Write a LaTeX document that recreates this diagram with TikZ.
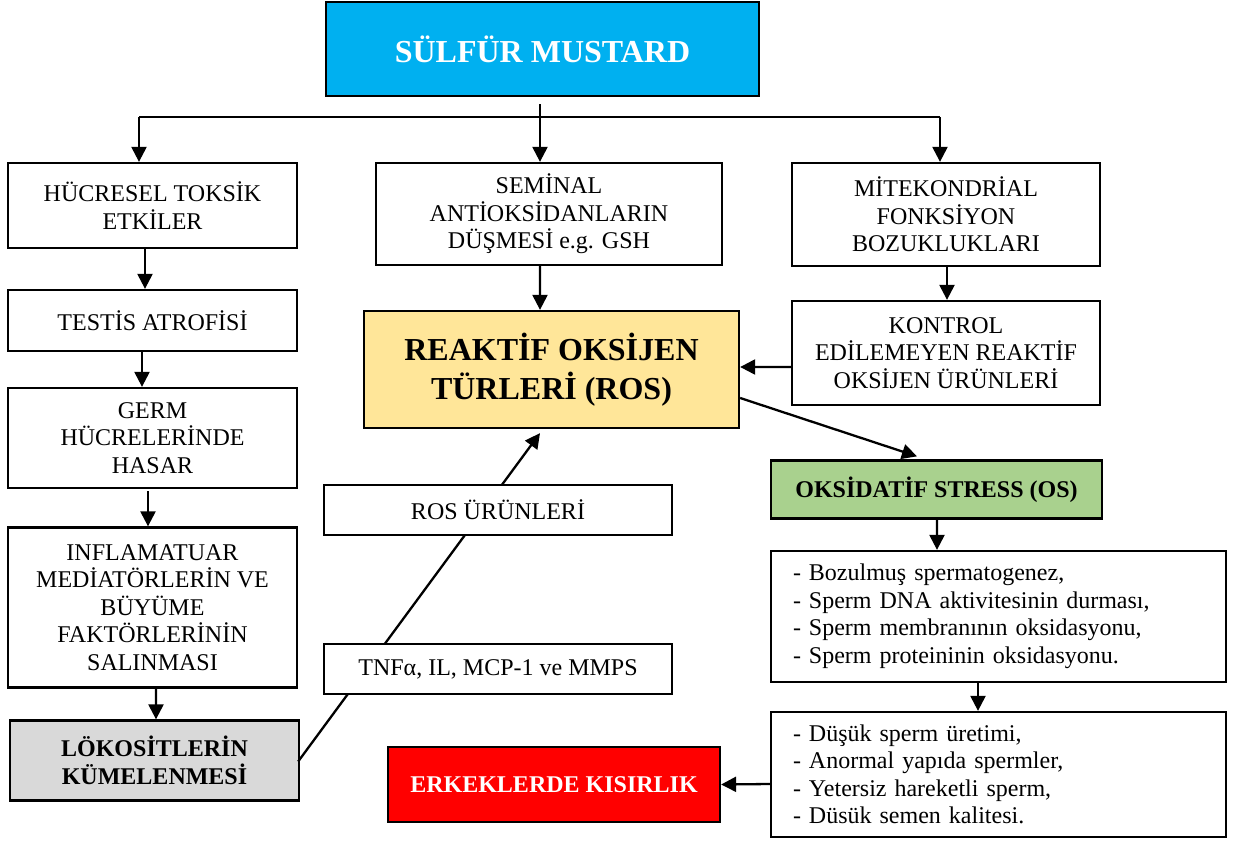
\documentclass[tikz,border=0pt]{standalone}
\usepackage{fontspec}
\setmainfont{Liberation Serif}
\usetikzlibrary{arrows.meta}
\definecolor{cyanbox}{HTML}{00B0F0}
\definecolor{yelbox}{HTML}{FFE699}
\definecolor{grnbox}{HTML}{A9D18E}
\definecolor{graybox}{HTML}{D9D9D9}
\definecolor{redbox}{HTML}{FF0000}
\tikzset{
  box/.style={draw=black, line width=2.3bp, fill=white, align=center, inner sep=4bp,
    font=\fontsize{24bp}{27.5bp}\selectfont},
  boldbox/.style={box, font=\fontsize{24bp}{27.5bp}\selectfont\bfseries},
  titlebox/.style={box, font=\fontsize{32bp}{39bp}\selectfont\bfseries},
  listbox/.style={box, align=left, inner xsep=22bp},
  conn/.style={line width=2.3bp, draw=black},
  arr/.style={conn, -{Triangle[length=15bp,width=15bp]}}
}
\begin{document}
\begin{tikzpicture}[x=1bp,y=-1bp]
\useasboundingbox (0,0) rectangle (1245,841);
% top
\node[titlebox, fill=cyanbox, text=white, minimum width=433bp, minimum height=94bp] (sulfur) at (542.5,49) {SÜLFÜR MUSTARD};
% first row
\node[box, minimum width=289bp, minimum height=85bp] (hucre) at (152.5,205.5) {HÜCRESEL TOKSİK\\ETKİLER};
\node[box, minimum width=346bp, minimum height=102bp] (seminal) at (549,214) {SEMİNAL\\ANTİOKSİDANLARIN\\DÜŞMESİ e.g. GSH};
\node[box, minimum width=308bp, minimum height=103bp] (mito) at (946,214.5) {MİTEKONDRİAL\\FONKSİYON\\BOZUKLUKLARI};
% left column
\node[box, minimum width=289bp, minimum height=61bp] (testis) at (152.5,320.5) {TESTİS ATROFİSİ};
\node[box, minimum width=289bp, minimum height=100bp] (germ) at (152.5,438) {GERM\\HÜCRELERİNDE\\HASAR};
\node[box, minimum width=289bp, minimum height=160bp] (infl) at (152.5,607.5) {INFLAMATUAR\\MEDİATÖRLERİN VE\\BÜYÜME\\FAKTÖRLERİNİN\\SALINMASI};
\node[boldbox, fill=graybox, minimum width=289bp, minimum height=80bp] (lok) at (154.5,760.5) {LÖKOSİTLERİN\\KÜMELENMESİ};
% center
\node[titlebox, fill=yelbox, minimum width=375bp, minimum height=117bp] (ros) at (551.5,369.5) {REAKTİF OKSİJEN\\TÜRLERİ (ROS)};
\node[boldbox, fill=redbox, text=white, minimum width=332bp, minimum height=75bp] (kisir) at (554,784.5) {ERKEKLERDE KISIRLIK};
% right column
\node[box, minimum width=308bp, minimum height=104bp] (kontrol) at (946,353) {KONTROL\\EDİLEMEYEN REAKTİF\\OKSİJEN ÜRÜNLERİ};
\node[boldbox, fill=grnbox, minimum width=331bp, minimum height=58bp] (os) at (936.5,489.5) {OKSİDATİF STRESS (OS)};
\node[listbox, text width=411bp, minimum width=455bp, minimum height=131bp] (list1) at (998.5,616.5) {- Bozulmuş spermatogenez,\\- Sperm DNA aktivitesinin durması,\\- Sperm membranının oksidasyonu,\\- Sperm proteininin oksidasyonu.};
\node[listbox, text width=411bp, minimum width=455bp, minimum height=125bp] (list2) at (998.5,774.5) {- Düşük sperm üretimi,\\- Anormal yapıda spermler,\\- Yetersiz hareketli sperm,\\- Düsük semen kalitesi.};
% diagonal ROS-products line (behind label boxes)
\draw[arr] ([xshift=-2bp,yshift=-1bp]lok.east) -- ([xshift=-11.5bp,yshift=-4bp]ros.south);
\node[box, minimum width=348bp, minimum height=50bp] (rosu) at (498,510) {ROS ÜRÜNLERİ};
\node[box, minimum width=348bp, minimum height=50bp] (tnf) at (498,669) {TNFα, IL, MCP-1 ve MMPS};
% branch from sulfur
\coordinate (j) at (540,117);
\coordinate (jl) at (139,117);
\coordinate (jr) at (940,117);
\draw[arr, shorten <=7bp] (j |- sulfur.south) -- (j |- seminal.north);
\draw[conn] (jl) -- (jr);
\draw[arr] (jl) -- (jl |- hucre.north);
\draw[arr] (jr) -- (jr |- mito.north);
% left column arrows
\draw[arr] ([xshift=-7.5bp]hucre.south) -- ([xshift=-7.5bp]testis.north);
\draw[arr] ([xshift=-10.5bp]testis.south) -- ([xshift=-10.5bp]germ.north);
\draw[arr] ([xshift=-4.5bp,yshift=-2bp]germ.south) -- ([xshift=-4.5bp]infl.north);
\draw[arr] ([xshift=3.5bp]infl.south) -- ([xshift=1.5bp]lok.north);
% center and right arrows
\draw[arr] ([xshift=-9bp]seminal.south) -- ([xshift=-11.5bp]ros.north);
\draw[arr] ([xshift=1bp]mito.south) -- ([xshift=1bp]kontrol.north);
\draw[arr] ([yshift=-14bp]kontrol.west) -- ([yshift=2.5bp]ros.east);
\draw[arr] ([yshift=-28.5bp]ros.east) -- ([xshift=-19.5bp,yshift=3bp]os.north);
\draw[arr] ([xshift=0.5bp]os.south) -- ([xshift=-61.5bp]list1.north);
\draw[arr] ([xshift=-20.5bp]list1.south) -- ([xshift=-20.5bp]list2.north);
\draw[arr] ([yshift=-9.5bp]list2.west) -- (kisir.east);
\end{tikzpicture}
\end{document}
